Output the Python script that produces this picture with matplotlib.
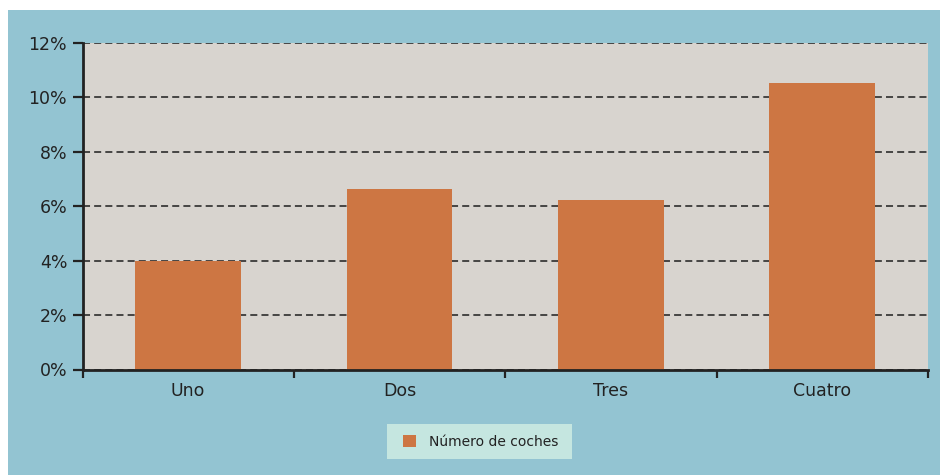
import matplotlib
matplotlib.use("Agg")
import matplotlib.pyplot as plt
from matplotlib.patches import Rectangle, Patch
from matplotlib.ticker import FixedLocator, FuncFormatter

categories = ["Uno", "Dos", "Tres", "Cuatro"]
values = [3.98, 6.64, 6.23, 10.53]
series_name = "Número de coches"
yticks = [0, 2, 4, 6, 8, 10, 12]

BG = "#93c4d2"
PLOT_BG = "#d8d4cf"
BAR = "#cd7643"
LEG_BG = "#c5e6e0"
TXT = "#222222"

W, H = 940, 475
fig = plt.figure(figsize=(W / 100, H / 100), dpi=100, facecolor="white")
fig.patches.append(Rectangle((8 / W, 0), 1 - 8 / W, (H - 10) / H,
                             transform=fig.transFigure, facecolor=BG,
                             edgecolor="none", zorder=-10))
# legend background box
fig.patches.append(Rectangle((387 / W, (H - 459) / H), 185 / W, 35 / H,
                             transform=fig.transFigure, facecolor=LEG_BG,
                             edgecolor="none", zorder=-5))

left, right, top, bottom = 82.5, 928, 43, 369.5
ax = fig.add_axes([left / W, (H - bottom) / H, (right - left) / W, (bottom - top) / H])
ax.set_facecolor(PLOT_BG)

x = list(range(len(categories)))
ax.bar(x, values, width=0.5, color=BAR, zorder=3)

ax.set_xlim(-0.5, len(categories) - 0.5)
ax.set_ylim(0, 12)

ax.yaxis.set_major_locator(FixedLocator(yticks))
ax.yaxis.set_major_formatter(FuncFormatter(lambda v, p: f"{int(v)}%"))
for yv in yticks:
    ax.axhline(yv, color="#1e1e1e", lw=1.1, dashes=(4.6, 2.7), zorder=2)

ax.set_xticks([i - 0.5 for i in range(len(categories) + 1)])
ax.set_xticklabels([])
ax.set_xticks(x, minor=True)
ax.set_xticklabels(categories, minor=True)
ax.tick_params(axis="x", which="major", direction="out", length=6, width=1.6, color=TXT)
ax.tick_params(axis="x", which="minor", length=0, pad=9, labelsize=12.5, labelcolor=TXT)
ax.tick_params(axis="y", direction="out", length=7, width=1.6, color=TXT,
               pad=4, labelsize=12.5, labelcolor=TXT)

for s in ["top", "right"]:
    ax.spines[s].set_visible(False)
for s in ["left", "bottom"]:
    ax.spines[s].set_linewidth(2)
    ax.spines[s].set_color(TXT)
    ax.spines[s].set_zorder(4)

handle = Patch(facecolor=BAR, edgecolor="none")
leg = fig.legend([handle], [series_name], loc="center left",
                 bbox_to_anchor=(403 / W, (H - 441.5) / H),
                 frameon=False, fontsize=10,
                 handlelength=0.95, handleheight=0.95, handletextpad=0.94,
                 borderpad=0, borderaxespad=0)
for t in leg.get_texts():
    t.set_color(TXT)

fig.savefig("out.png", dpi=100, facecolor="white")
